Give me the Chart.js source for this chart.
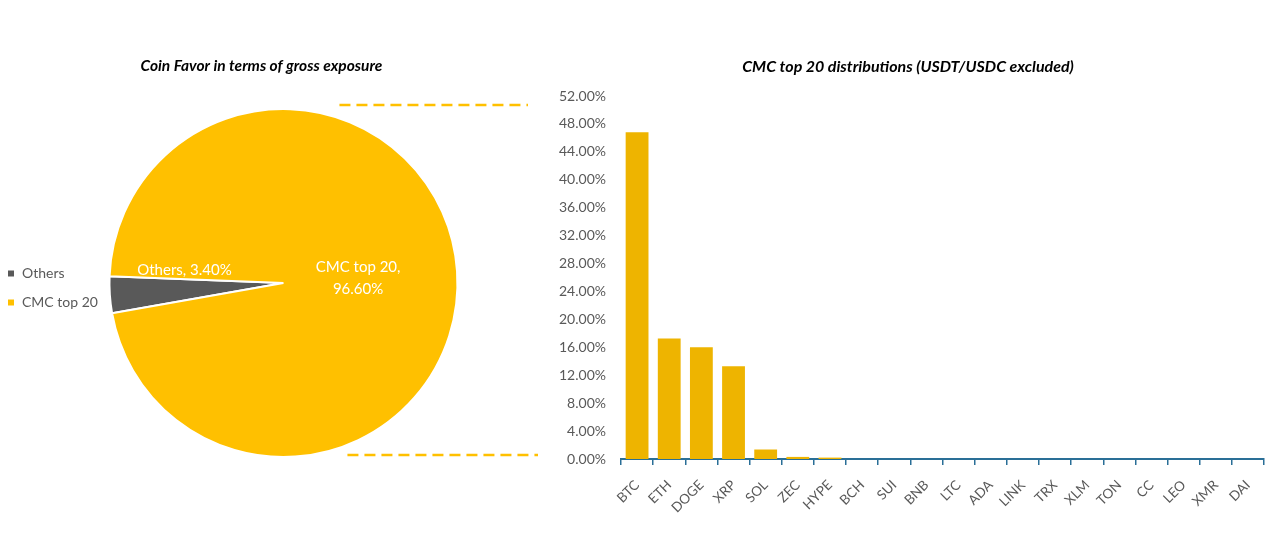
<!DOCTYPE html>
<html>
<head>
<meta charset="utf-8">
<script src="https://cdn.jsdelivr.net/npm/chart.js@4.4.1/dist/chart.umd.min.js"></script>
<style>
  html, body { margin: 0; padding: 0; background: #fff; }
  #wrap { position: relative; width: 1280px; height: 542px; }
  #pieBox { position: absolute; left: 0; top: 0; width: 545px; height: 542px; }
  #barBox { position: absolute; left: 540px; top: 0; width: 740px; height: 542px; }
</style>
</head>
<body>
<div id="wrap">
  <div id="pieBox"><canvas id="pieChart"></canvas></div>
  <div id="barBox"><canvas id="barChart"></canvas></div>
</div>
<script>
// pie: share of gross exposure
const pieLabels = ['Others', 'CMC top 20'];
const pieValues = [3.40, 96.60];
const pieColors = ['#595959', '#FFC000'];
const pieTitle = 'Coin Favor in terms of gross exposure';

// bars: CMC top 20 distribution (percent)
const coins = ['BTC', 'ETH', 'DOGE', 'XRP', 'SOL', 'ZEC', 'HYPE', 'BCH', 'SUI', 'BNB',
  'LTC', 'ADA', 'LINK', 'TRX', 'XLM', 'TON', 'CC', 'LEO', 'XMR', 'DAI'];
const coinShares = [46.8, 17.25, 16.0, 13.27, 1.36, 0.3, 0.2, 0, 0, 0,
  0, 0, 0, 0, 0, 0, 0, 0, 0, 0];
const barTitle = 'CMC top 20 distributions (USDT/USDC excluded)';
const yMax = 52;
const yStep = 4;

const fontFamily = 'Lato, "Open Sans", sans-serif';
Chart.defaults.font.family = fontFamily;
Chart.defaults.color = '#595959';

// title, white labels inside the pie + dashed connector lines toward the bar chart
const pieExtras = {
  id: 'pieExtras',
  afterDatasetsDraw(chart) {
    const ctx = chart.ctx;
    const arcs = chart.getDatasetMeta(0).data;
    const cx = arcs[0].x, cy = arcs[0].y, r = arcs[0].outerRadius;
    ctx.save();
    ctx.textAlign = 'center';
    ctx.textBaseline = 'middle';

    // title sits a bit left of the pie centre, like the source sheet
    ctx.fillStyle = '#000000';
    ctx.font = 'italic bold 15.5px ' + fontFamily;
    ctx.fillText(pieTitle, cx - 22, cy - r - 43);

    ctx.fillStyle = '#ffffff';
    ctx.font = '15px ' + fontFamily;
    // Others label sits just above the thin slice
    const a0 = (arcs[0].startAngle + arcs[0].endAngle) / 2;
    ctx.fillText(pieLabels[0] + ', ' + pieValues[0].toFixed(2) + '%',
      cx + Math.cos(a0) * r * 0.57, cy + Math.sin(a0) * r * 0.57 - 20);
    const a1 = (arcs[1].startAngle + arcs[1].endAngle) / 2;
    const lx = cx + Math.cos(a1) * r * 0.43, ly = cy + Math.sin(a1) * r * 0.43;
    ctx.fillText(pieLabels[1] + ',', lx, ly - 11);
    ctx.fillText(pieValues[1].toFixed(2) + '%', lx, ly + 11);

    ctx.strokeStyle = '#FFC000';
    ctx.lineWidth = 2.5;
    ctx.setLineDash([11, 6]);
    ctx.beginPath();
    ctx.moveTo(cx + 56, cy - r - 4);
    ctx.lineTo(chart.width - 17, cy - r - 4);
    ctx.moveTo(cx + 64, cy + r - 2);
    ctx.lineTo(chart.width - 7, cy + r - 2);
    ctx.stroke();
    ctx.restore();
  }
};

new Chart(document.getElementById('pieChart'), {
  type: 'pie',
  data: {
    labels: pieLabels,
    datasets: [{
      data: pieValues,
      backgroundColor: pieColors,
      borderColor: '#ffffff',
      borderWidth: 2
    }]
  },
  options: {
    responsive: true,
    maintainAspectRatio: false,
    animation: false,
    rotation: 260,
    layout: { padding: { left: -8, right: 86, top: 108, bottom: 84 } },
    plugins: {
      legend: {
        position: 'left',
        fullSize: false,
        // empty title only nudges the items down a little
        title: { display: true, text: '', font: { size: 1 }, padding: 4.5 },
        labels: {
          usePointStyle: true,
          pointStyle: 'rect',
          boxWidth: 8,
          boxHeight: 8,
          padding: 15,
          color: '#595959',
          font: { size: 14 }
        }
      },
      tooltip: { enabled: false }
    }
  },
  plugins: [pieExtras]
});

new Chart(document.getElementById('barChart'), {
  type: 'bar',
  data: {
    labels: coins,
    datasets: [{
      label: 'Share',
      data: coinShares,
      backgroundColor: '#EEB400',
      categoryPercentage: 1,
      barPercentage: 0.71
    }]
  },
  options: {
    responsive: true,
    maintainAspectRatio: false,
    animation: false,
    layout: { padding: { left: 12, right: 16, top: 0, bottom: 0 } },
    plugins: {
      legend: { display: false },
      tooltip: { enabled: false },
      title: {
        display: true,
        text: barTitle,
        color: '#000000',
        font: { size: 16, weight: 'bold', style: 'italic' },
        padding: { top: 57.4, bottom: 19.4 }
      }
    },
    scales: {
      x: {
        grid: {
          display: true,
          drawOnChartArea: false,
          drawTicks: true,
          tickLength: 6,
          color: '#2a6f97',
          lineWidth: 1.5
        },
        border: { display: true, color: '#2a6f97', width: 2 },
        ticks: {
          autoSkip: false,
          minRotation: 45,
          maxRotation: 45,
          padding: 12,
          color: '#595959',
          font: { size: 13.5 }
        },
        afterFit: (scale) => { scale.height = 83; }
      },
      y: {
        min: 0,
        max: yMax,
        grid: { display: false, drawTicks: false },
        border: { display: false },
        ticks: {
          stepSize: yStep,
          padding: 15,
          color: '#595959',
          font: { size: 14 },
          callback: (v) => v.toFixed(2) + '%'
        },
        afterFit: (scale) => { scale.width = 69; }
      }
    }
  }
});
</script>
</body>
</html>
